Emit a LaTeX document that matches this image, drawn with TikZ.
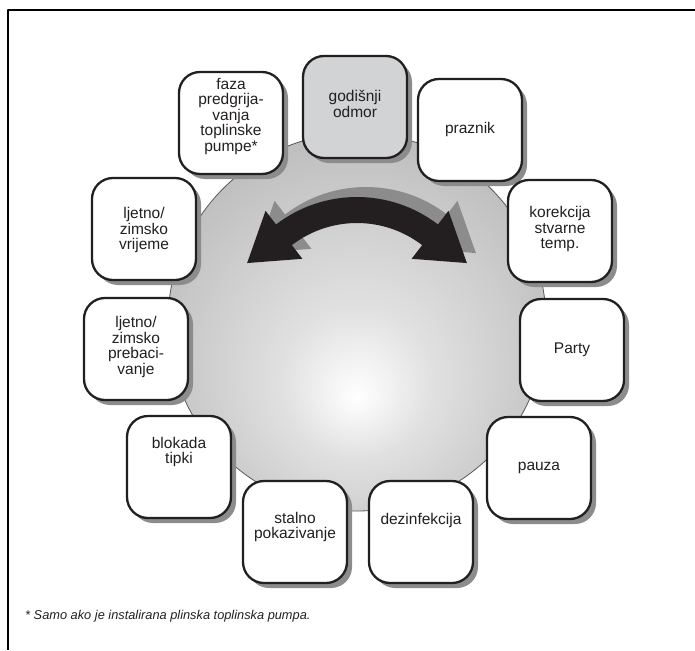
\documentclass[tikz,border=0pt]{standalone}
\usepackage{fontspec}
\setmainfont{Liberation Sans}
\usetikzlibrary{arrows.meta,shadows,calc}
\definecolor{ink}{HTML}{231F20}
\definecolor{shadowgray}{HTML}{8C8C8C}
\definecolor{panelgray}{HTML}{D1D3D4}
\colorlet{discin}{white}
\colorlet{discmid}{gray!24}
\colorlet{discout}{gray!58}
\pgfdeclareradialshading{discshade}{\pgfpoint{0bp}{-10bp}}{color(0bp)=(discin); color(10bp)=(discmid); color(34bp)=(discout); color(50bp)=(discout)}

\begin{document}
\begin{tikzpicture}[x=1pt,y=-1pt,font=\fontsize{15.5}{15.5}\selectfont,line join=round,
  panel/.style={draw=ink,line width=2.3pt,fill=white,rounded corners=21pt,
    minimum width=104pt,minimum height=102pt,
    drop shadow={shadow xshift=5pt,shadow yshift=-5pt,fill=shadowgray,opacity=1}},
  txt/.style={align=center,text=ink,inner sep=0pt},
  swing/.style={line width=26pt,>={Triangle[length=47pt,width=57pt]},<->}]
\useasboundingbox (0,0) rectangle (695,650);
\draw[line width=1.2pt] (695,10) -- (8,10) -- (8,650);

% disc
\shadedraw[shading=discshade,draw=ink!75,line width=0.8pt] (357,322) circle[radius=189];

% double arrow, shadow first
\coordinate (hub) at (357,330);
\coordinate (baseL) at ($(hub)+(-127.5:120)$);
\coordinate (baseR) at ($(hub)+(-52.5:120)$);
\coordinate (tipL) at ($(baseL)+(142.5:47)$);
\coordinate (tipR) at ($(baseR)+(37.5:47)$);
\draw[swing,shadowgray,transform canvas={xshift=9pt,yshift=10pt}]
  (tipL) -- (baseL) arc[start angle=-127.5,end angle=-52.5,radius=120] -- (tipR);
\draw[swing,ink] (tipL) -- (baseL) arc[start angle=-127.5,end angle=-52.5,radius=120] -- (tipR);

% menu panels
\node[panel,fill=panelgray] (odmor) at (355,107) {};
\node[panel] (praznik) at (470,130) {};
\node[panel] (korekcija) at (560,231) {};
\node[panel] (party) at (572,350) {};
\node[panel] (pauza) at (539,468) {};
\node[panel] (dezinf) at (421,532) {};
\node[panel] (stalno) at (295,532) {};
\node[panel] (blokada) at (179,467) {};
\node[panel] (prebac) at (136,349) {};
\node[panel] (vrijeme) at (144,229) {};
\node[panel] (faza) at (231,123) {};

\node[txt] (odmor-t) at (355,104) {godišnji\\odmor};
\node[txt] (praznik-t) at (470,129) {praznik};
\node[txt] (korekcija-t) at (560,229) {korekcija\\stvarne\\temp.};
\node[txt] (party-t) at (572,350) {Party};
\node[txt] (pauza-t) at (539,468) {pauza};
\node[txt] (dezinf-t) at (421,520) {dezinfekcija};
\node[txt] (stalno-t) at (295,527) {stalno\\pokazivanje};
\node[txt] (blokada-t) at (179,452) {blokada\\tipki};
\node[txt] (prebac-t) at (136,347) {ljetno/\\zimsko\\prebaci-\\vanje};
\node[txt] (vrijeme-t) at (144,230) {ljetno/\\zimsko\\vrijeme};
\node[txt] (faza-t) at (231,116) {faza\\predgrija-\\vanja\\toplinske\\pumpe*};

\node[txt,anchor=west,font=\itshape\fontsize{12.8}{15}\selectfont] (note) at (25,616)
  {* Samo ako je instalirana plinska toplinska pumpa.};
\end{tikzpicture}
\end{document}
